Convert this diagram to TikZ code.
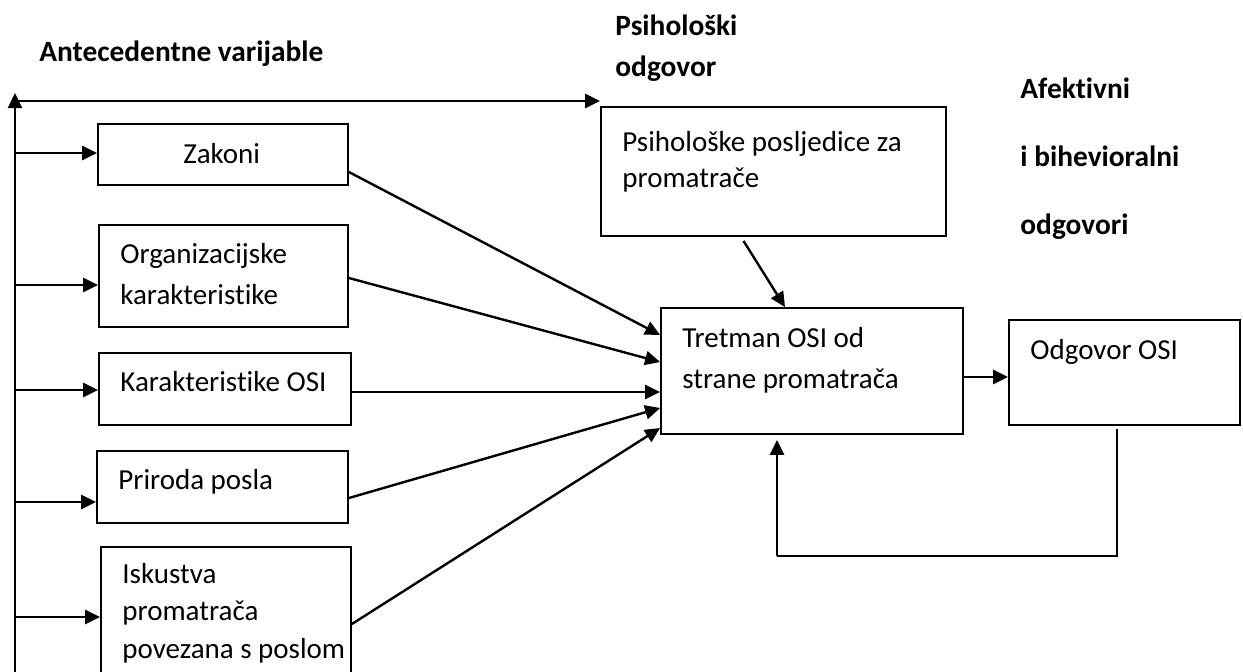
\documentclass[tikz,border=0pt]{standalone}
\usepackage{fontspec}
\setmainfont{Carlito}[Ligatures=NoCommon]
\usetikzlibrary{arrows.meta, fit}

\tikzset{
  box/.style={draw, line width=0.9pt, inner sep=0pt},
  lbl/.style={anchor=base west, align=left, inner sep=0pt},
  head/.style={lbl, font=\fontsize{14.7}{20.5}\selectfont\bfseries},
  arr/.style={line width=1.2pt, -{Triangle[length=7.5pt, width=7pt]}}
}

\begin{document}
\begin{tikzpicture}[x=0.5pt, y=-0.5pt, font=\fontsize{14.5}{20.5}\selectfont]
    \useasboundingbox (0,0) rectangle (1243,671);

    % headings (base = last line)
    \node[head] (h-ante) at (39,61) {Antecedentne varijable};
    \node[head] (h-psih) at (615,76) {Psihološki\\odgovor};
    \node[head, font=\fontsize{14.7}{34}\selectfont\bfseries] (h-afekt) at (1020,234) {Afektivni\\i bihevioralni\\odgovori};

    % boxes
    \node[box, fit={(98,124) (348,185)}] (zakoni) {};
    \node[box, fit={(99,225) (348,327)}] (org) {};
    \node[box, fit={(99,353) (351,425)}] (osi) {};
    \node[box, fit={(97,451) (348,523)}] (priroda) {};
    \node[box, fit={(101,547) (351,700)}] (iskustvo) {};
    \node[box, fit={(601,107) (946,236)}] (psih) {};
    \node[box, fit={(661,308) (963,434)}] (tretman) {};
    \node[box, fit={(1009,320) (1240,425)}] (odgovor) {};

    % box texts
    \node[lbl] (zakoni-t) at (183,163) {Zakoni};
    \node[lbl] (org-t) at (120,304) {Organizacijske\\karakteristike};
    \node[lbl] (osi-t) at (120,391) {Karakteristike OSI};
    \node[lbl] (priroda-t) at (118,489) {Priroda posla};
    \node[lbl, font=\fontsize{14.5}{18.75}\selectfont] (iskustvo-t) at (122,658) {Iskustva\\promatrača\\povezana s poslom};
    \node[lbl, font=\fontsize{14.5}{18}\selectfont] (psih-t) at (622,187) {Psihološke posljedice za\\promatrače};
    \node[lbl] (tretman-t) at (682,388) {Tretman OSI od\\strane promatrača};
    \node[lbl] (odgovor-t) at (1030,359) {Odgovor OSI};

    % spine on the left
    \coordinate (spine-bot) at (15,690);
    \coordinate (spine-top) at (15,93);
    \coordinate (corner) at (15,101);
    \draw[arr] (spine-bot) -- (spine-top);
    \draw[arr] (corner) -- (corner -| psih.north west);

    \foreach \b/\y in {zakoni/153, org/285, osi/390, priroda/502, iskustvo/617} {
        \coordinate (s-\b) at (15,\y);
        \draw[arr] (s-\b) -- (s-\b -| \b.west);
    }

    % into the treatment box
    \foreach \b/\ys/\ye in {zakoni/172/335, org/278/362, osi/392/392, priroda/498/408, iskustvo/624/428}
        \draw[arr] (\b.east |- 0,\ys) -- (tretman.west |- 0,\ye);

    \draw[arr] ([xshift=-15pt, yshift=-2pt]psih.south) -- ([xshift=-13.5pt]tretman.north);
    \draw[arr] (tretman.east |- 0,377) -- (odgovor.west |- 0,377);

    % feedback loop
    \coordinate (fb-r) at (1117,556);
    \coordinate (fb-l) at (777,556);
    \draw[line width=0.9pt, shorten <=1.5pt] (odgovor.south -| fb-r) -- (fb-r) -- (fb-l);
    \draw[arr, shorten >=2.5pt] (fb-l) -- (fb-l |- tretman.south);
\end{tikzpicture}
\end{document}
